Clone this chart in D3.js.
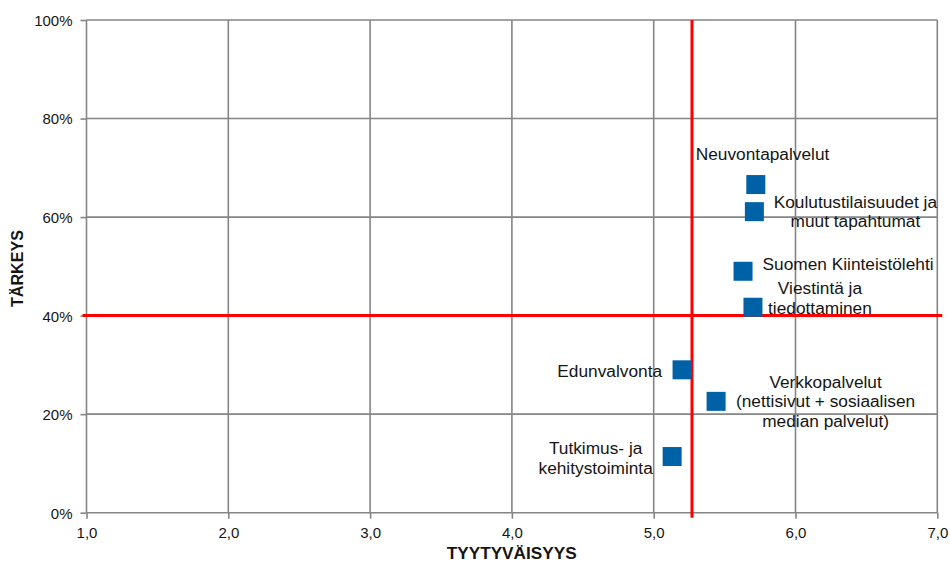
<!DOCTYPE html>
<html>
<head>
<meta charset="utf-8">
<script src="https://cdn.jsdelivr.net/npm/d3@7"></script>
<style>
  html, body { margin: 0; padding: 0; background: #fff; }
  svg { display: block; font-family: "Liberation Sans", Arial, sans-serif; }
</style>
</head>
<body>
<svg id="chart" width="950" height="562"></svg>
<script>
// Palvelut: tyytyväisyys (1–7) ja tärkeys (osuus vastaajista)
const services = [
  "Neuvontapalvelut",
  "Koulutustilaisuudet ja muut tapahtumat",
  "Suomen Kiinteistölehti",
  "Viestintä ja tiedottaminen",
  "Edunvalvonta",
  "Verkkopalvelut (nettisivut + sosiaalisen median palvelut)",
  "Tutkimus- ja kehitystoiminta"
];
const satisfaction = [5.72, 5.71, 5.63, 5.70, 5.20, 5.44, 5.13];
const importance   = [0.666, 0.611, 0.490, 0.417, 0.290, 0.226, 0.114];

// Rivitetyt selitetekstit
const labelLines = [
  ["Neuvontapalvelut"],
  ["Koulutustilaisuudet ja", "muut tapahtumat"],
  ["Suomen Kiinteistölehti"],
  ["Viestintä ja", "tiedottaminen"],
  ["Edunvalvonta"],
  ["Verkkopalvelut", "(nettisivut + sosiaalisen", "median palvelut)"],
  ["Tutkimus- ja", "kehitystoiminta"]
];

// Nelikentän jakoviivat
const satisfactionDivider = 5.27;
const importanceDivider = 0.40;

// Akselien jaot ja nimet
const xTicks = [1, 2, 3, 4, 5, 6, 7];
const yTicks = [0, 0.2, 0.4, 0.6, 0.8, 1.0];
const xTitle = "TYYTYVÄISYYS";
const yTitle = "TÄRKEYS";

// ---- layout ----
const plot = { left: 86.5, top: 20, right: 937.3, bottom: 512.7 };

// label placement relative to each marker: anchor, dx, first-line dy
const labelLayout = [
  { anchor: "start",  dx: -60,   dy: -30.5 },
  { anchor: "middle", dx: 101,   dy: -9.8 },
  { anchor: "start",  dx: 19.5,  dy: -7.5 },
  { anchor: "middle", dx: 67,    dy: -19 },
  { anchor: "end",    dx: -20,   dy: 1 },
  { anchor: "middle", dx: 109.5, dy: -19.5 },
  { anchor: "middle", dx: -76.5, dy: -8.4 }
];
const lineGap = 19.5;

const svg = d3.select("#chart");

const x = d3.scaleLinear().domain([1, 7]).range([plot.left, plot.right]);
const y = d3.scaleLinear().domain([0, 1]).range([plot.bottom, plot.top]);

const gridColor = "#858585";
const textColor = "#151515";

// grid
const grid = svg.append("g").attr("stroke", gridColor).attr("stroke-width", 1.6);
grid.selectAll("line.v").data(xTicks).join("line")
  .attr("x1", d => x(d)).attr("x2", d => x(d))
  .attr("y1", plot.top).attr("y2", plot.bottom);
grid.selectAll("line.h").data(yTicks).join("line")
  .attr("x1", plot.left).attr("x2", plot.right)
  .attr("y1", d => y(d)).attr("y2", d => y(d));

// axes
const fmtX = d => d.toFixed(1).replace(".", ",");
const xAxis = svg.append("g")
  .attr("transform", `translate(0,${plot.bottom})`)
  .call(d3.axisBottom(x).tickValues(xTicks).tickFormat(fmtX).tickSize(6).tickSizeOuter(0).tickPadding(6));
const yAxis = svg.append("g")
  .attr("transform", `translate(${plot.left},0)`)
  .call(d3.axisLeft(y).tickValues(yTicks).tickFormat(d3.format(".0%")).tickSize(6).tickSizeOuter(0).tickPadding(8));

[xAxis, yAxis].forEach(g => {
  g.select(".domain").remove();
  g.selectAll(".tick line").attr("stroke", gridColor).attr("stroke-width", 1.6);
  g.selectAll(".tick text")
    .attr("fill", textColor)
    .style("font-family", "'Liberation Sans', Arial, sans-serif")
    .style("font-size", "15px");
});
yAxis.selectAll(".tick text").attr("dy", "0.36em");
xAxis.selectAll(".tick text").attr("dy", "0.9em");

// quadrant dividers
const red = svg.append("g").attr("stroke", "#ff0000").attr("stroke-width", 3);
red.append("line")
  .attr("x1", x(satisfactionDivider)).attr("x2", x(satisfactionDivider))
  .attr("y1", plot.top).attr("y2", plot.bottom + 5);
red.append("line")
  .attr("x1", plot.left - 4).attr("x2", plot.right + 5)
  .attr("y1", y(importanceDivider)).attr("y2", y(importanceDivider));

// markers
const points = services.map((name, i) => ({
  name, sx: satisfaction[i], imp: importance[i], lines: labelLines[i], layout: labelLayout[i]
}));
const size = 19;
svg.append("g").selectAll("rect").data(points).join("rect")
  .attr("x", d => x(d.sx) - size / 2)
  .attr("y", d => y(d.imp) - size / 2)
  .attr("width", size).attr("height", size)
  .attr("fill", "#0062a6");

// labels
const labels = svg.append("g")
  .attr("fill", textColor)
  .style("font-size", "17.3px");
points.forEach(p => {
  const t = labels.append("text")
    .attr("text-anchor", p.layout.anchor)
    .attr("x", x(p.sx) + p.layout.dx)
    .attr("y", y(p.imp) + p.layout.dy);
  p.lines.forEach((ln, j) => {
    t.append("tspan")
      .attr("x", x(p.sx) + p.layout.dx)
      .attr("y", y(p.imp) + p.layout.dy + j * lineGap)
      .attr("dy", "0.35em")
      .text(ln);
  });
});

// axis titles, sized so the bold caps span a fixed width
function fitWidth(sel, width, base) {
  sel.style("font-size", base + "px");
  const w = sel.node().getComputedTextLength();
  if (w > 0) sel.style("font-size", (base * width / w).toFixed(2) + "px");
}
const xt = svg.append("text")
  .attr("x", 511.7)
  .attr("y", 553)
  .attr("dy", "0.35em")
  .attr("text-anchor", "middle")
  .attr("fill", textColor)
  .style("font-weight", "bold")
  .text(xTitle);
fitWidth(xt, 130, 16);
const yt = svg.append("text")
  .attr("transform", `translate(17.5,${268.5}) rotate(-90)`)
  .attr("dy", "0.35em")
  .attr("text-anchor", "middle")
  .attr("fill", textColor)
  .style("font-weight", "bold")
  .text(yTitle);
fitWidth(yt, 77, 16);
</script>
</body>
</html>
